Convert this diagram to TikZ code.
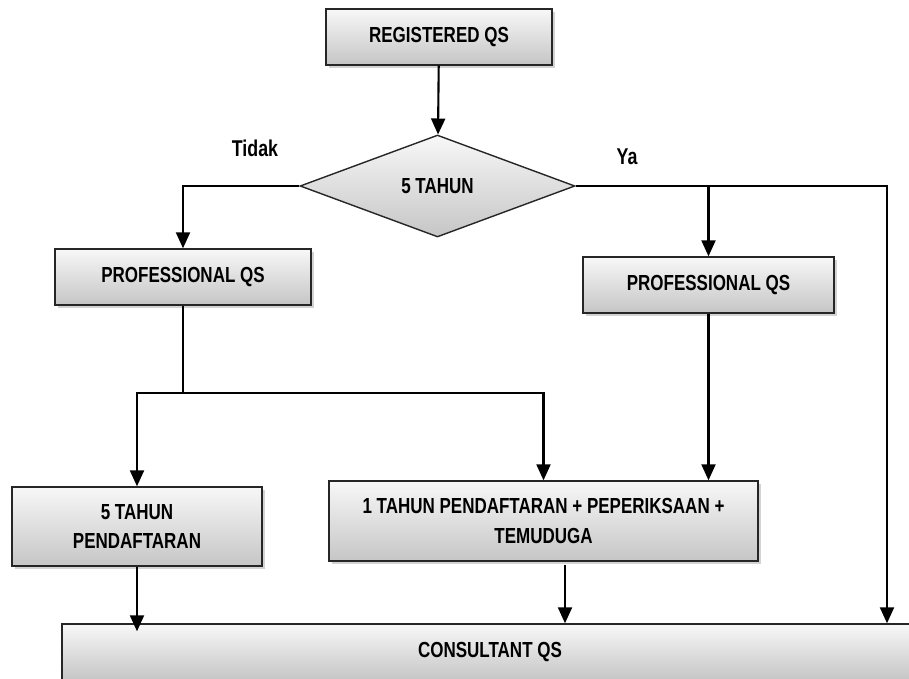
\documentclass[tikz,border=0pt]{standalone}
\usepackage{fontspec}
\setmainfont{Liberation Sans}[FakeStretch=0.78]
\usetikzlibrary{shapes, arrows.meta, positioning, calc, shadows}

\tikzset{
	box/.style={rectangle, draw=black!85, line width=0.8pt, top color=gray!6, bottom color=gray!45,
		drop shadow={shadow xshift=1.5pt, shadow yshift=-1.5pt, opacity=0.35},
		align=center, inner sep=0pt, font=\fontsize{12.4}{17}\bfseries},
	decision/.style={diamond, draw=black!85, line width=0.8pt, top color=gray!6, bottom color=gray!45,
		inner sep=0pt, minimum width=5.5cm, minimum height=2.04cm, font=\fontsize{12.4}{17}\bfseries},
	answer/.style={font=\fontsize{13}{15}\bfseries},
	line/.style={line width=1.2pt, -{Triangle[length=0.32cm,width=0.28cm]}}
}

\begin{document}
\begin{tikzpicture}[x=0.02cm, y=-0.02cm]
	\useasboundingbox (0,0) rectangle (909,679);
	\clip (0,0) rectangle (909,679);
		\node[box, minimum width=4.52cm, minimum height=1.12cm] (reg) at (439,37) {REGISTERED QS};
		\node[decision] (dec) at (437.5,186) {5 TAHUN};
		\node[answer] (tidak) at (255,148) {Tidak};
		\node[answer] (ya) at (627,157) {Ya};
			\node[box, minimum width=5.12cm, minimum height=1.12cm] (profL) at (183,277) {PROFESSIONAL QS};
			\node[box, minimum width=5.02cm, minimum height=1.12cm] (profR) at (708.5,285) {PROFESSIONAL QS};
			\node[box, minimum width=5cm, minimum height=1.58cm] (daftar) at (137,526.5) {5 TAHUN\\PENDAFTARAN};
			\node[box, minimum width=8.58cm, minimum height=1.6cm] (ujian) at (543.5,521) {1 TAHUN PENDAFTARAN + PEPERIKSAAN +\\TEMUDUGA};
		\node[box, minimum width=17.12cm, minimum height=1.12cm] (cons) at (490,652) {CONSULTANT QS};
		\coordinate (split) at (183,393);
		\coordinate (kanan) at (887,186);
		\coordinate (bawah) at (565,565);
		% connectors
		\draw[line] (reg) -- (dec);
		\draw[line] (dec.west) -| (profL.north);
		\draw[line] (dec.east) -| (kanan |- cons.north);
		\draw[line] (dec.east -| profR.north) -- (profR.north);
		\draw[line width=1.2pt] (profL.south) -- (split);
		\foreach \to in {daftar,ujian}
			\draw[line] (split) -| (\to.north);
		\draw[line] (profR.south) -- (profR.south |- ujian.north);
		\draw[line, shorten >=-0.16cm] (daftar.south) -- (daftar.south |- cons.north);
		\draw[line] (bawah) -- (bawah |- cons.north);
	\end{tikzpicture}
\end{document}
